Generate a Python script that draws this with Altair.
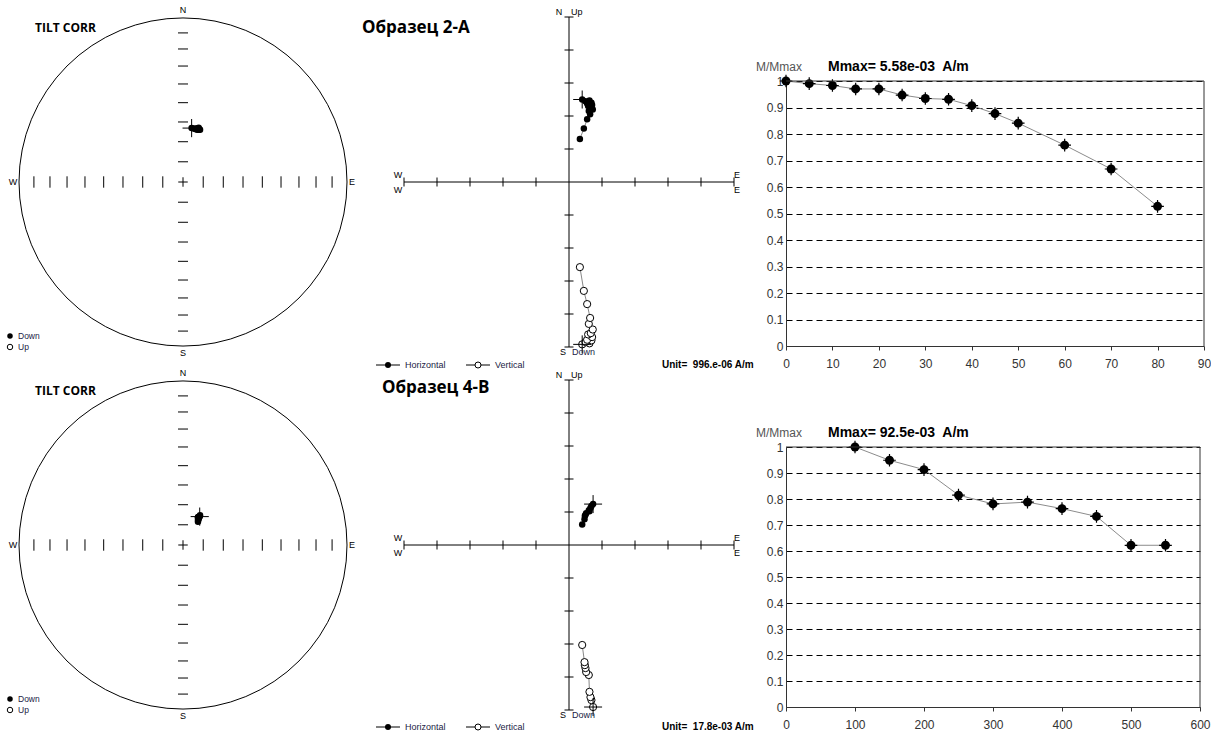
import math
import altair as alt
import pandas as pd

# ---------------- data ----------------
# Sample 2-A: AF demagnetisation steps (mT) and normalised intensity
steps_a = [0, 5, 10, 15, 20, 25, 30, 35, 40, 45, 50, 60, 70, 80]
mrel_a = [1.0, 0.99, 0.983, 0.97, 0.97, 0.947, 0.934, 0.931, 0.907, 0.877, 0.841, 0.758, 0.668, 0.527]
# vector components in plot units (Unit = 996e-06 A/m)
east_a = [0.40, 0.62, 0.50, 0.68, 0.55, 0.70, 0.58, 0.66, 0.72, 0.60, 0.64, 0.55, 0.45, 0.33]
north_a = [2.50, 2.47, 2.45, 2.40, 2.38, 2.33, 2.30, 2.27, 2.20, 2.15, 2.05, 1.90, 1.62, 1.30]
down_a = [4.92, 4.89, 4.85, 4.80, 4.78, 4.70, 4.62, 4.58, 4.47, 4.30, 4.12, 3.70, 3.30, 2.58]

# Sample 4-B: thermal steps (deg C)
steps_b = [100, 150, 200, 250, 300, 350, 400, 450, 500, 550]
mrel_b = [1.0, 0.949, 0.913, 0.815, 0.781, 0.788, 0.763, 0.733, 0.622, 0.622]
# vector components in plot units (Unit = 17.8e-03 A/m)
east_b = [0.73, 0.68, 0.65, 0.62, 0.60, 0.52, 0.50, 0.48, 0.47, 0.40]
north_b = [1.24, 1.18, 1.12, 1.02, 1.05, 0.96, 0.92, 0.88, 0.78, 0.62]
down_b = [4.91, 4.70, 4.61, 4.45, 3.94, 3.85, 3.73, 3.64, 3.55, 3.03]

x_ticks_a = [0, 10, 20, 30, 40, 50, 60, 70, 80, 90]
x_ticks_b = [0, 100, 200, 300, 400, 500, 600]
y_ticks = [0, 0.1, 0.2, 0.3, 0.4, 0.5, 0.6, 0.7, 0.8, 0.9, 1]

NB = "\u00a0"
title_a = "Образец 2-А"
title_b = "Образец 4-В"
unit_a = "Unit=" + NB + " 996.e-06 A/m"
unit_b = "Unit=" + NB + " 17.8e-03 A/m"
mmax_a = "Mmax= 5.58e-03" + NB + " A/m"
mmax_b = "Mmax= 92.5e-03" + NB + " A/m"

# ---------------- styling ----------------
FONT = "Liberation Sans"
HEAD = "Open Sans"
CROSS = "M-1,0L1,0M0,-1L0,1"
HDASH = "M-1,0L1,0"
VDASH = "M0,-1L0,1"
ONE = pd.DataFrame({"k": [0]})
LEGEND_TXT = "#222244"


def frame(steps, mrel, e, n, d):
    return pd.DataFrame({"step": steps, "mrel": mrel, "e": e, "n": n, "d": d})


def label(text, x, y, size=9, bold=False, font=FONT, align="left", color="black"):
    return alt.Chart(ONE).mark_text(
        text=text, font=font, fontSize=size,
        fontWeight="bold" if bold else "normal",
        align=align, baseline="middle", color=color,
    ).encode(x=alt.value(x), y=alt.value(y))


# ---------------- stereonet ----------------
ST_W, ST_R, ST_CX = 370, 164, 183


def stereonet(df, H, cy):
    xs = alt.Scale(domain=[-ST_CX / ST_R, (ST_W - ST_CX) / ST_R], nice=False, zero=False)
    ys = alt.Scale(domain=[-(H - cy) / ST_R, cy / ST_R], nice=False, zero=False)

    def X(f):
        return alt.X(f, type="quantitative", scale=xs, axis=None)

    def Y(f):
        return alt.Y(f, type="quantitative", scale=ys, axis=None)

    origin = pd.DataFrame({"x": [0.0], "y": [0.0]})
    circle = alt.Chart(origin).mark_point(
        shape="circle", size=(2 * ST_R) ** 2, filled=False, stroke="black",
        strokeWidth=1, opacity=1).encode(x=X("x"), y=Y("y"))
    radii = [math.sqrt(2) * math.sin(math.radians((90 - i) / 2)) for i in range(10, 90, 10)]
    ns = pd.DataFrame({"x": [0.0] * (2 * len(radii)), "y": radii + [-r for r in radii]})
    ew = pd.DataFrame({"x": radii + [-r for r in radii], "y": [0.0] * (2 * len(radii))})
    ns_t = alt.Chart(ns).mark_point(shape=HDASH, size=100, filled=False, stroke="black",
                                    strokeWidth=1, opacity=1).encode(x=X("x"), y=Y("y"))
    ew_t = alt.Chart(ew).mark_point(shape=VDASH, size=130, filled=False, stroke="black",
                                    strokeWidth=1, opacity=1).encode(x=X("x"), y=Y("y"))
    centre = alt.Chart(origin).mark_point(shape=CROSS, size=90, filled=False, stroke="black",
                                          strokeWidth=1, opacity=1).encode(x=X("x"), y=Y("y"))

    proj = (alt.Chart(df)
            .transform_calculate(h="sqrt(datum.e*datum.e + datum.n*datum.n)")
            .transform_calculate(m="sqrt(datum.h*datum.h + datum.d*datum.d)")
            .transform_calculate(rr="sqrt(1 - abs(datum.d)/datum.m)")
            .transform_calculate(sx="datum.rr*datum.e/datum.h")
            .transform_calculate(sy="datum.rr*datum.n/datum.h"))
    first = df["step"].iloc[0]
    pts = proj.mark_point(shape="circle", filled=True, color="black", size=42,
                          opacity=1).encode(x=X("sx"), y=Y("sy"))
    cr = proj.transform_filter(alt.datum.step == first).mark_point(
        shape=CROSS, size=330, filled=False, stroke="black", strokeWidth=1,
        opacity=1).encode(x=X("sx"), y=Y("sy"))

    texts = [
        label("N", ST_CX, cy - 172, align="center"),
        label("S", ST_CX, cy + 171, align="center"),
        label("W", 13, cy, align="center"),
        label("E", 352, cy, align="center"),
        label("TILT CORR", 35, cy - 154, size=12, bold=True, font=HEAD),
        label("Down", 18, cy + 154, size=8.5, color=LEGEND_TXT),
        label("Up", 18, cy + 165, size=8.5, color=LEGEND_TXT),
    ]
    leg_d = alt.Chart(ONE).mark_point(shape="circle", filled=True, color="black", size=30,
                                      opacity=1).encode(x=alt.value(10), y=alt.value(cy + 154))
    leg_u = alt.Chart(ONE).mark_point(shape="circle", filled=True, fill="white", stroke="black",
                                      strokeWidth=1, size=30, opacity=1).encode(
        x=alt.value(10), y=alt.value(cy + 165))
    return alt.layer(circle, ns_t, ew_t, centre, pts, cr, leg_d, leg_u, *texts).properties(
        width=ST_W, height=H)


# ---------------- Zijderveld ----------------
ZW, ZU, ZCX = 416, 33, 199


def zijderveld(df, H, cy, title, title_x, title_y, unit_text, leg_y):
    xs = alt.Scale(domain=[-ZCX / ZU, (ZW - ZCX) / ZU], nice=False, zero=False)
    ys = alt.Scale(domain=[-(H - cy) / ZU, cy / ZU], nice=False, zero=False)

    def X(f):
        return alt.X(f, type="quantitative", scale=xs, axis=None)

    def Y(f):
        return alt.Y(f, type="quantitative", scale=ys, axis=None)

    axes_df = pd.DataFrame({"x": [-5.0, 0.0], "x2": [5.0, 0.0], "y": [0.0, -5.0], "y2": [0.0, 5.0]})
    axes = alt.Chart(axes_df).mark_rule(color="black", strokeWidth=1).encode(
        x=X("x"), x2="x2:Q", y=Y("y"), y2="y2:Q")
    ks = [k for k in range(-5, 6) if k != 0]
    vt = pd.DataFrame({"x": [0.0] * len(ks), "y": [float(k) for k in ks]})
    ht = pd.DataFrame({"x": [float(k) for k in ks], "y": [0.0] * len(ks)})
    vt_m = alt.Chart(vt).mark_point(shape=HDASH, size=81, filled=False, stroke="black",
                                    strokeWidth=1, opacity=1).encode(x=X("x"), y=Y("y"))
    ht_m = alt.Chart(ht).mark_point(shape=VDASH, size=81, filled=False, stroke="black",
                                    strokeWidth=1, opacity=1).encode(x=X("x"), y=Y("y"))

    first = df["step"].iloc[0]
    base = alt.Chart(df).transform_calculate(vy="-datum.d")
    h_line = base.mark_line(color="#888888", strokeWidth=1).encode(x=X("e"), y=Y("n"), order="step:Q")
    v_line = base.mark_line(color="#888888", strokeWidth=1).encode(x=X("e"), y=Y("vy"), order="step:Q")
    h_pts = base.mark_point(shape="circle", filled=True, color="black", size=42,
                            opacity=1).encode(x=X("e"), y=Y("n"))
    v_pts = base.mark_point(shape="circle", filled=True, fill="white", stroke="black",
                            strokeWidth=1, size=52, opacity=1).encode(x=X("e"), y=Y("vy"))
    fb = base.transform_filter(alt.datum.step == first)
    h_cr = fb.mark_point(shape=CROSS, size=324, filled=False, stroke="black", strokeWidth=1,
                         opacity=1).encode(x=X("e"), y=Y("n"))
    v_cr = fb.mark_point(shape=CROSS, size=324, filled=False, stroke="black", strokeWidth=1,
                         opacity=1).encode(x=X("e"), y=Y("vy"))

    texts = [
        label("N", 189, cy - 170, align="center"),
        label("Up", 201, cy - 170),
        label("S", 193, cy + 170, align="center"),
        label("Down", 202, cy + 170, color=LEGEND_TXT),
        label("W", 28, cy - 7, align="center"),
        label("W", 28, cy + 8, align="center"),
        label("E", 367, cy - 7, align="center"),
        label("E", 367, cy + 8, align="center"),
        label(title, title_x, title_y, size=17, bold=True, font=HEAD),
        label("Horizontal", 35, leg_y, color=LEGEND_TXT),
        label("Vertical", 125, leg_y, color=LEGEND_TXT),
        label(unit_text, 292, leg_y, size=10, bold=True),
    ]
    leg_r1 = alt.Chart(ONE).mark_rule(color="black", strokeWidth=1).encode(
        x=alt.value(6), x2=alt.value(30), y=alt.value(leg_y))
    leg_r2 = alt.Chart(ONE).mark_rule(color="black", strokeWidth=1).encode(
        x=alt.value(96), x2=alt.value(120), y=alt.value(leg_y))
    leg_p1 = alt.Chart(ONE).mark_point(shape="circle", filled=True, color="black", size=36,
                                       opacity=1).encode(x=alt.value(18), y=alt.value(leg_y))
    leg_p2 = alt.Chart(ONE).mark_point(shape="circle", filled=True, fill="white", stroke="black",
                                       strokeWidth=1, size=36, opacity=1).encode(
        x=alt.value(108), y=alt.value(leg_y))
    return alt.layer(axes, vt_m, ht_m, h_line, v_line, h_pts, v_pts, h_cr, v_cr,
                     leg_r1, leg_r2, leg_p1, leg_p2, *texts).properties(width=ZW, height=H)


# ---------------- demagnetisation curve ----------------
DW = 418


def demag(df, H, top, bottom, pw, xmax, xticks, mmax_text):
    xs = alt.Scale(domain=[0, xmax], range=[0, pw], nice=False, zero=False)
    ys = alt.Scale(domain=[0, 1], range=[bottom, top], nice=False, zero=False)
    xa = alt.Axis(values=xticks, title=None, grid=False, tickSize=4, labelPadding=8,
                  labelFont=FONT, labelFontSize=12, labelColor="#333333", labelFlush=False,
                  domainColor="#333333", tickColor="#333333", labelOverlap=False,
                  offset=-(H - bottom))
    ya = alt.Axis(values=y_ticks, format="~g", title=None, grid=True, gridDash=[6, 4],
                  gridColor="black", gridWidth=1.2, ticks=False, labelPadding=3,
                  labelFont=FONT, labelFontSize=12, labelColor="#333333",
                  domainColor="#333333", labelOverlap=False)
    base = alt.Chart(df).encode(x=alt.X("step:Q", scale=xs, axis=xa),
                                y=alt.Y("mrel:Q", scale=ys, axis=ya))
    line = base.mark_line(color="#8c8c8c", strokeWidth=1)
    crs = base.mark_point(shape=CROSS, size=160, filled=False, stroke="black", strokeWidth=1.2,
                          opacity=1)
    dots = base.mark_point(shape="circle", filled=True, color="black", size=80, opacity=1)
    top_edge = alt.Chart(ONE).mark_rule(color="#333333", strokeWidth=1).encode(
        x=alt.value(0), x2=alt.value(pw), y=alt.value(top))
    right_edge = alt.Chart(ONE).mark_rule(color="#333333", strokeWidth=1).encode(
        x=alt.value(pw), y=alt.value(top), y2=alt.value(bottom))
    t1 = label("M/Mmax", -30, top - 14, size=12, color="#555555")
    t2 = label(mmax_text, 42, top - 14, size=14, bold=True)
    return alt.layer(line, crs, dots, top_edge, right_edge, t1, t2).properties(
        width=DW, height=H)


df_a = frame(steps_a, mrel_a, east_a, north_a, down_a)
df_b = frame(steps_b, mrel_b, east_b, north_b, down_b)

chart = alt.concat(
    stereonet(df_a, 365, 182),
    zijderveld(df_a, 365, 182, title_a, -8, 28, unit_a, 365),
    demag(df_a, 365, 81, 346, 418, 90, x_ticks_a, mmax_a),
    stereonet(df_b, 371, 180),
    zijderveld(df_b, 371, 180, title_b, 12, 23, unit_b, 362),
    demag(df_b, 371, 82, 342, 414, 600, x_ticks_b, mmax_b),
    columns=3, spacing=0, bounds="flush", align="each",
).properties(padding=0, background="white").configure_view(strokeWidth=0)

chart.save("out.html", embed_options={"renderer": "svg", "actions": False})
